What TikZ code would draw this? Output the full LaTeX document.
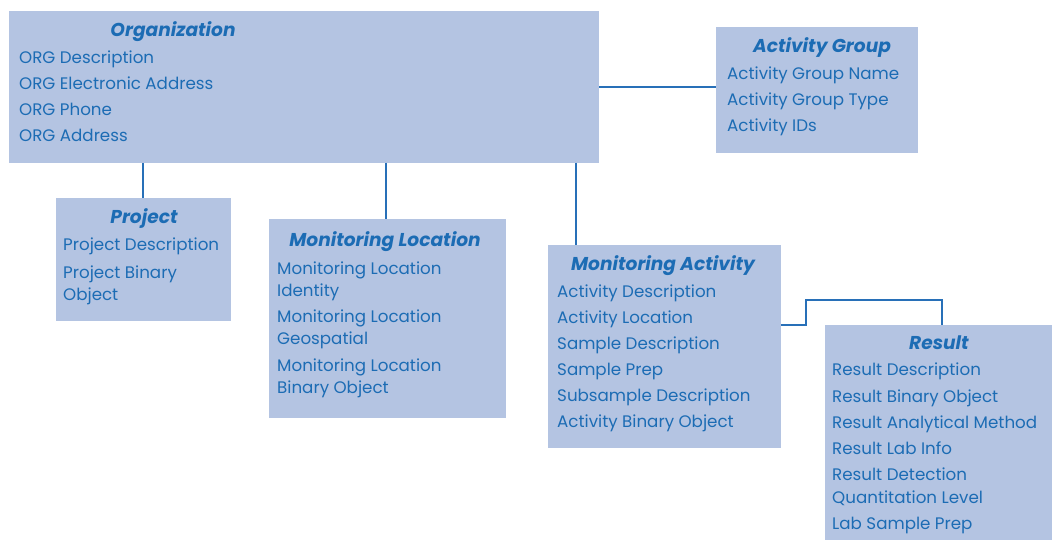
\documentclass[tikz,border=0pt]{standalone}
\usepackage{fontspec}
\setmainfont{Poppins}
\definecolor{boxfill}{RGB}{180,196,226}
\definecolor{txtblue}{RGB}{28,108,180}
\definecolor{lineblue}{RGB}{40,112,184}
\begin{document}
\begin{tikzpicture}[x=1pt,y=-1pt,
  box/.style={draw=none,fill=boxfill,inner sep=0,anchor=north west},
  ln/.style={anchor=base west,inner sep=0,text=txtblue,font=\fontsize{16.7}{20}\selectfont},
  ttl/.style={anchor=base,inner sep=0,text=txtblue,font=\fontsize{18.6}{20}\selectfont\bfseries\itshape},
  conn/.style={draw=lineblue,line width=1.6pt}]
\useasboundingbox (0,0) rectangle (1052,540);
% boxes
\node[box,minimum width=590pt,minimum height=152pt] (org) at (9,11) {};
\node[box,minimum width=202pt,minimum height=126pt] (ag) at (716,27) {};
\node[box,minimum width=175pt,minimum height=123pt] (proj) at (56,198) {};
\node[box,minimum width=237pt,minimum height=199pt] (ml) at (269,219) {};
\node[box,minimum width=233pt,minimum height=203pt] (ma) at (548,245) {};
\node[box,minimum width=227pt,minimum height=215pt] (res) at (825,325) {};
% connectors
\coordinate (c1) at (143,163);
\coordinate (c2) at (386,163);
\coordinate (c3) at (576,163);
\coordinate (c4) at (599,87);
\coordinate (c5) at (781,325);
\coordinate (c6) at (806,300);
\coordinate (c7) at (942,300);
\draw[conn] (c1) -- (c1 |- proj.north);
\draw[conn] (c2) -- (c2 |- ml.north);
\draw[conn] (c3) -- (c3 |- ma.north);
\draw[conn] (c4) -- (c4 -| ag.west);
\draw[conn] (c5) -| (c6) -- (c7) -- (c7 |- res.north);
% Organization
\node[ttl] (orgT) at (173,37) {Organization};
\node[ln] (org1) at (19,64) {ORG Description};
\node[ln] (org2) at (19,90) {ORG Electronic Address};
\node[ln] (org3) at (19,116) {ORG Phone};
\node[ln] (org4) at (19,142) {ORG Address};
% Activity Group
\node[ttl] (agT) at (822,53) {Activity Group};
\node[ln] (ag1) at (727,80) {Activity Group Name};
\node[ln] (ag2) at (727,106) {Activity Group Type};
\node[ln] (ag3) at (727,132) {Activity IDs};
% Project
\node[ttl] (projT) at (144,224) {Project};
\node[ln] (proj1) at (63,251) {Project Description};
\node[ln] (proj2) at (63,278) {Project Binary};
\node[ln] (proj3) at (63,300) {Object};
% Monitoring Location
\node[ttl] (mlT) at (385,247) {Monitoring Location};
\node[ln] (ml1) at (277,274) {Monitoring Location};
\node[ln] (ml2) at (277,296) {Identity};
\node[ln] (ml3) at (277,322) {Monitoring Location};
\node[ln] (ml4) at (277,344) {Geospatial};
\node[ln] (ml5) at (277,371) {Monitoring Location};
\node[ln] (ml6) at (277,393) {Binary Object};
% Monitoring Activity
\node[ttl] (maT) at (663,270) {Monitoring Activity};
\node[ln] (ma1) at (557,297) {Activity Description};
\node[ln] (ma2) at (557,323) {Activity Location};
\node[ln] (ma3) at (557,349) {Sample Description};
\node[ln] (ma4) at (557,375) {Sample Prep};
\node[ln] (ma5) at (557,401) {Subsample Description};
\node[ln] (ma6) at (557,427) {Activity Binary Object};
% Result
\node[ttl] (resT) at (939,349) {Result};
\node[ln] (res1) at (832,375) {Result Description};
\node[ln] (res2) at (832,402) {Result Binary Object};
\node[ln] (res3) at (832,428) {Result Analytical Method};
\node[ln] (res4) at (832,454) {Result Lab Info};
\node[ln] (res5) at (832,480) {Result Detection};
\node[ln] (res6) at (832,503) {Quantitation Level};
\node[ln] (res7) at (832,529) {Lab Sample Prep};
\end{tikzpicture}
\end{document}
